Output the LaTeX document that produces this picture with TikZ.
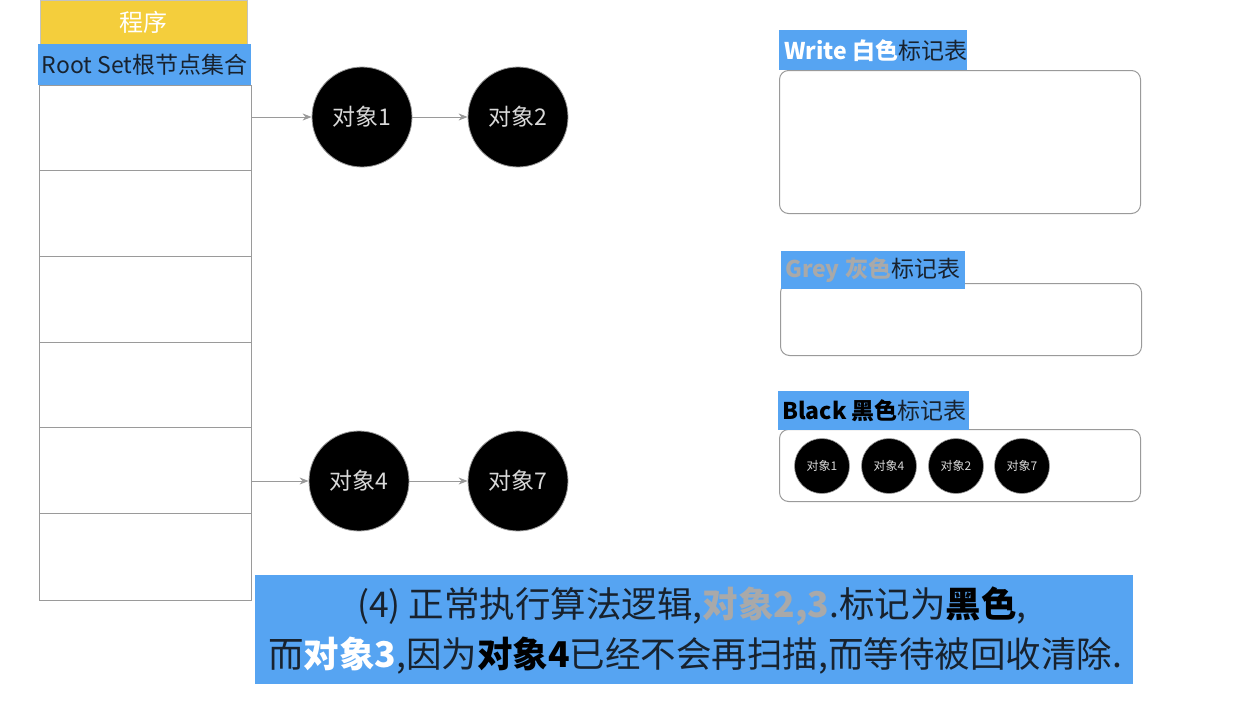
\documentclass[tikz,border=0pt]{standalone}
\usepackage{fontspec}
\setmainfont{Noto Sans CJK SC}
\usetikzlibrary{arrows.meta}
\definecolor{hdrblue}{HTML}{56A4F2}
\definecolor{progyellow}{HTML}{F4CE3C}
\definecolor{darktext}{HTML}{18222E}
\definecolor{greytext}{HTML}{A9A9A9}
\definecolor{linegrey}{HTML}{9A9A9A}
\tikzset{
  obj/.style={circle,fill=black,draw=linegrey,line width=0.8pt,minimum size=100pt,inner sep=0pt,text=white!85!black,font=\fontsize{23}{23}\selectfont},
  smallobj/.style={circle,fill=black,draw=linegrey,line width=0.6pt,minimum size=55pt,inner sep=0pt,text=white!85!black,font=\fontsize{12}{12}\selectfont},
  link/.style={draw=linegrey,line width=1pt,-{Stealth[length=9pt,width=7pt]}},
  rowbox/.style={draw=linegrey,line width=0.8pt,fill=white},
  tablebox/.style={draw=linegrey,line width=1pt,rounded corners=9pt,fill=white},
  hdr/.style={fill=hdrblue,inner sep=0pt,anchor=north west},
  hdrtext/.style={anchor=west,inner sep=0pt,font=\fontsize{23}{23}\selectfont},
  captext/.style={inner sep=0pt,text=darktext,font=\fontsize{35.5}{36}\selectfont}
}
\begin{document}
\begin{tikzpicture}[x=1pt,y=-1pt]
\useasboundingbox (0,0) rectangle (1244,701);
\fill[white] (0,0) rectangle (1244,701);
% program
\node[fill=progyellow,draw=linegrey!60,minimum width=207pt,minimum height=44pt,inner sep=0pt,anchor=north west,text=white,font=\fontsize{24}{24}\selectfont] (prog) at (40,0) {程序};
% root set
\node[fill=hdrblue,minimum width=213pt,minimum height=41pt,inner sep=0pt,anchor=north west,text=darktext,font=\fontsize{23}{23}\selectfont] (root) at (38,44) {Root Set根节点集合};
\draw[rowbox] (39,85) rectangle (251,170);
\draw[rowbox] (39,170) rectangle (251,256);
\draw[rowbox] (39,256) rectangle (251,342);
\draw[rowbox] (39,342) rectangle (251,427);
\draw[rowbox] (39,427) rectangle (251,513);
\draw[rowbox] (39,513) rectangle (251,600);
\coordinate (r1) at (252,117);
\coordinate (r5) at (252,481);
% objects
\node[obj] (o1) at (362,117) {对象1};
\node[obj] (o2) at (518,117) {对象2};
\node[obj] (o4) at (359,481) {对象4};
\node[obj] (o7) at (518,481) {对象7};
\draw[link] (r1) -- (o1);
\draw[link] (o1) -- (o2);
\draw[link] (r5) -- (o4);
\draw[link] (o4) -- (o7);
% write table
\node[tablebox,minimum width=361pt,minimum height=143pt,anchor=north west] (wt) at (779,70) {};
\node[hdr,minimum width=188pt,minimum height=40pt] (wh) at (779,30) {};
\node[hdrtext] (wl) at (784,51) {\textcolor{white}{\textbf{Write 白色}}\textcolor{darktext}{标记表}};
% grey table
\node[tablebox,minimum width=361pt,minimum height=72pt,anchor=north west] (gt) at (780,283) {};
\node[hdr,minimum width=184pt,minimum height=38pt] (gh) at (781,251) {};
\node[hdrtext] (gl) at (785,270) {\textcolor{greytext}{\textbf{Grey 灰色}}\textcolor{darktext}{标记表}};
% black table
\node[tablebox,minimum width=361pt,minimum height=72pt,anchor=north west] (bt) at (779,429) {};
\node[hdr,minimum width=191pt,minimum height=39pt] (bh) at (778,391) {};
\node[hdrtext] (bl) at (782,411) {\textcolor{black}{\textbf{Black 黑色}}\textcolor{darktext}{标记表}};
\node[smallobj] (b1) at (822,466) {对象1};
\node[smallobj] (b4) at (889,466) {对象4};
\node[smallobj] (b2) at (956,466) {对象2};
\node[smallobj] (b7) at (1022,466) {对象7};
% caption
\node[fill=hdrblue,minimum width=878pt,minimum height=109pt,anchor=north west,inner sep=0pt] (cap) at (255,575) {};
\node[captext] (l1) at (692,606) {(4) 正常执行算法逻辑,\textcolor{greytext}{\textbf{对象2,3}}.标记为\textcolor{black}{\textbf{黑色}},};
\node[captext] (l2) at (695,656) {而\textcolor{white}{\textbf{对象3}},因为\textcolor{black}{\textbf{对象4}}已经不会再扫描,而等待被回收清除.};
\end{tikzpicture}
\end{document}
